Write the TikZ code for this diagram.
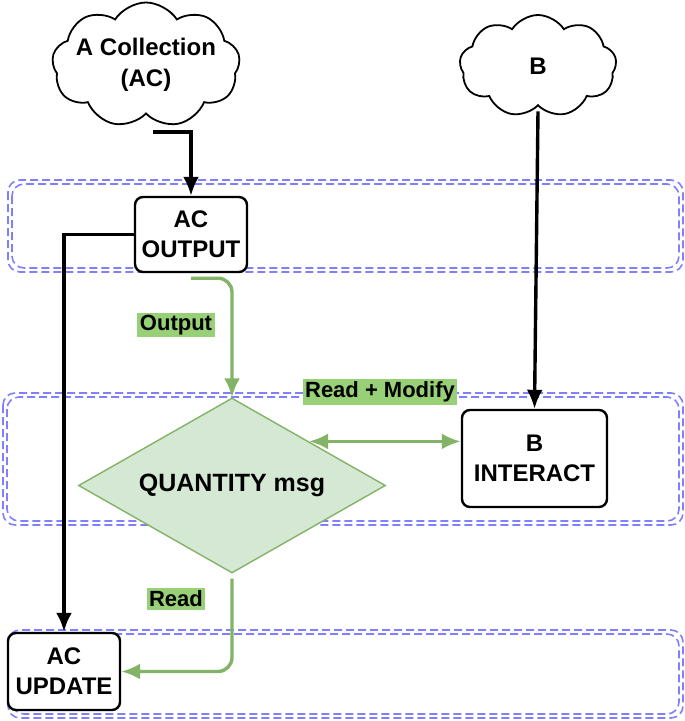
\documentclass[tikz,border=0pt]{standalone}
\usepackage{fontspec}
\setmainfont{Liberation Sans}
\usetikzlibrary{shapes.geometric,shapes.symbols,arrows.meta,calc}
\definecolor{lanec}{HTML}{8080FF}
\definecolor{grnc}{HTML}{82B366}
\definecolor{grnfill}{HTML}{D5E8D4}
\definecolor{lblc}{HTML}{97D077}
\tikzset{
  lane/.style={draw=lanec, line width=1.6pt, dash pattern=on 8pt off 4pt, rounded corners=12pt},
  boxn/.style={draw=black, line width=2.4pt, rounded corners=8pt, fill=white, align=center,
    font=\fontsize{24}{30}\selectfont\bfseries, inner sep=2pt},
  cloudn/.style={cloud, cloud puffs=9, cloud puff arc=115, cloud ignores aspect, draw=black, line width=1.8pt, fill=white,
    inner sep=0pt},
  cloudtxt/.style={align=center, font=\fontsize{24}{31}\selectfont\bfseries},
  blk/.style={draw=black, line width=3.4pt, -{Latex[length=19pt,width=16pt]}},
  grn/.style={draw=grnc, line width=3.4pt, -{Latex[length=19pt,width=16pt]}},
  lbl/.style={fill=lblc, inner sep=2.5pt, font=\fontsize{22}{25}\selectfont\bfseries}
}
\begin{document}
\begin{tikzpicture}[x=1pt,y=-1pt]
\useasboundingbox (0,0) rectangle (685,721);
% lanes
\draw[lane] (8,180) rectangle (683,272);
\draw[lane] (12,184) rectangle (679,268);
\draw[lane] (3,393) rectangle (683,525);
\draw[lane] (7,397) rectangle (679,521);
\draw[lane] (8,630) rectangle (683,718);
\draw[lane] (12,634) rectangle (679,714);
% nodes
\node[cloudn, minimum width=188pt, minimum height=125pt,
  label={[cloudtxt]center:A Collection\\(AC)}] (acc) at (146,65) {};
\node[cloudn, minimum width=157pt, minimum height=102pt,
  label={[cloudtxt]center:B}] (cb) at (538,66) {};
\coordinate (acbot) at (153,132);
\node[boxn, minimum width=112pt, minimum height=75pt] (acout) at (191,234.5) {AC\\OUTPUT};
\node[draw=grnc, fill=grnfill, line width=1.4pt, diamond, minimum width=307pt, minimum height=175pt,
  inner sep=0pt, label={[font=\fontsize{25}{30}\selectfont\bfseries]center:QUANTITY msg}] (qm) at (232,485.5) {};
\node[boxn, minimum width=145pt, minimum height=97pt] (binter) at (534.5,458.5) {B\\INTERACT};
\node[boxn, minimum width=112pt, minimum height=77pt] (acupd) at (64,671.5) {AC\\UPDATE};
% labels
\node[lbl] (lout) at (176,325) {Output};
\node[lbl] (lrm) at (380,392) {Read + Modify};
\node[lbl] (lrd) at (176,599) {Read};
% connectors
\draw[blk] (acbot) -| (acout.north);
\draw[blk] (acout.west) -| (acupd.north);
\draw[grn, rounded corners=14pt] ([yshift=-5pt]acout.south) -| (qm.north);
\draw[grn, {Latex[length=19pt,width=16pt]}-{Latex[length=19pt,width=16pt]}] (qm.north east) -- (binter.west |- qm.north east);
\draw[blk] ([yshift=-5pt]cb.south) -- (binter.north);
\draw[grn, rounded corners=14pt] ([yshift=-5pt]qm.south) |- (acupd.east);
\end{tikzpicture}
\end{document}
